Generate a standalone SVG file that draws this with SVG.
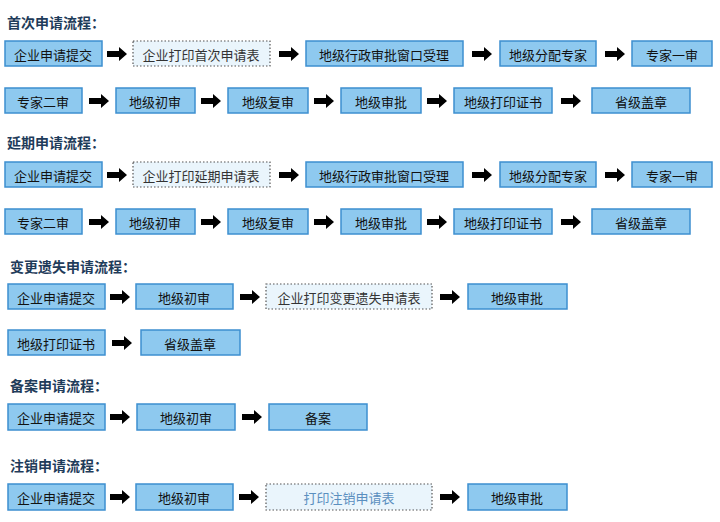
<svg xmlns="http://www.w3.org/2000/svg" width="720" height="522" viewBox="0 0 720 522">
<style>
.b{fill:#8ec9ef;stroke:#3d8fd0;stroke-width:1.5}
.d{fill:#eaf5fc;stroke:#555;stroke-width:1.2;stroke-dasharray:1.5 2}
text{font-family:"Noto Sans CJK SC",sans-serif;font-size:13px;fill:#111;text-anchor:middle;dominant-baseline:central}
.dt{fill:#333}
.t{font-size:14px;font-weight:bold;fill:#1f3c5a;text-anchor:start}
</style>
<defs><path id="a" d="M0,-3 H12 V-7 L20,0 L12,7 V3 H0 Z" fill="#000"/></defs>
<rect width="720" height="522" fill="#fff"/>
<text class="t" x="7" y="22">首次申请流程：</text>
<text class="t" x="7" y="142">延期申请流程：</text>
<text class="t" x="10" y="266">变更遗失申请流程：</text>
<text class="t" x="10" y="385">备案申请流程：</text>
<text class="t" x="10" y="465">注销申请流程：</text>
<g id="connectors">
<use href="#a" x="107" y="54"/><use href="#a" x="279" y="54"/><use href="#a" x="472" y="54"/><use href="#a" x="605" y="54"/>
<use href="#a" x="89" y="101"/><use href="#a" x="201" y="101"/><use href="#a" x="314" y="101"/><use href="#a" x="427" y="101"/><use href="#a" x="561" y="101"/>
<use href="#a" x="107" y="175"/><use href="#a" x="279" y="175"/><use href="#a" x="472" y="175"/><use href="#a" x="605" y="175"/>
<use href="#a" x="89" y="222"/><use href="#a" x="201" y="222"/><use href="#a" x="314" y="222"/><use href="#a" x="427" y="222"/><use href="#a" x="561" y="222"/>
<use href="#a" x="110" y="297"/><use href="#a" x="240" y="297"/><use href="#a" x="440" y="297"/>
<use href="#a" x="112" y="343"/>
<use href="#a" x="110" y="417"/><use href="#a" x="242" y="417"/>
<use href="#a" x="110" y="497"/><use href="#a" x="239" y="497"/><use href="#a" x="440" y="497"/>
</g>
<g id="r1">
<g id="n1"><rect class="b" x="5" y="41" width="97" height="25"/><text x="53" y="54">企业申请提交</text></g>
<g id="n2"><rect class="d" x="133" y="41" width="137" height="25"/><text class="dt" x="201" y="54">企业打印首次申请表</text></g>
<g id="n3"><rect class="b" x="306" y="41" width="157" height="25"/><text x="384" y="54">地级行政审批窗口受理</text></g>
<g id="n4"><rect class="b" x="500" y="41" width="96" height="25"/><text x="548" y="54">地级分配专家</text></g>
<g id="n5"><rect class="b" x="632" y="41" width="80" height="25"/><text x="672" y="54">专家一审</text></g>
<g id="n6"><rect class="b" x="5" y="88" width="77" height="25"/><text x="43" y="101">专家二审</text></g>
<g id="n7"><rect class="b" x="116" y="88" width="79" height="25"/><text x="155" y="101">地级初审</text></g>
<g id="n8"><rect class="b" x="228" y="88" width="80" height="25"/><text x="268" y="101">地级复审</text></g>
<g id="n9"><rect class="b" x="341" y="88" width="80" height="25"/><text x="381" y="101">地级审批</text></g>
<g id="n10"><rect class="b" x="454" y="88" width="98" height="25"/><text x="503" y="101">地级打印证书</text></g>
<g id="n11"><rect class="b" x="592" y="88" width="98" height="25"/><text x="641" y="101">省级盖章</text></g>
</g>
<g id="r2">
<g id="m1"><rect class="b" x="5" y="162" width="97" height="25"/><text x="53" y="175">企业申请提交</text></g>
<g id="m2"><rect class="d" x="133" y="162" width="137" height="25"/><text class="dt" x="201" y="175">企业打印延期申请表</text></g>
<g id="m3"><rect class="b" x="306" y="162" width="157" height="25"/><text x="384" y="175">地级行政审批窗口受理</text></g>
<g id="m4"><rect class="b" x="500" y="162" width="96" height="25"/><text x="548" y="175">地级分配专家</text></g>
<g id="m5"><rect class="b" x="632" y="162" width="80" height="25"/><text x="672" y="175">专家一审</text></g>
<g id="m6"><rect class="b" x="5" y="209" width="77" height="25"/><text x="43" y="222">专家二审</text></g>
<g id="m7"><rect class="b" x="116" y="209" width="79" height="25"/><text x="155" y="222">地级初审</text></g>
<g id="m8"><rect class="b" x="228" y="209" width="80" height="25"/><text x="268" y="222">地级复审</text></g>
<g id="m9"><rect class="b" x="341" y="209" width="80" height="25"/><text x="381" y="222">地级审批</text></g>
<g id="m10"><rect class="b" x="454" y="209" width="98" height="25"/><text x="503" y="222">地级打印证书</text></g>
<g id="m11"><rect class="b" x="592" y="209" width="98" height="25"/><text x="641" y="222">省级盖章</text></g>
</g>
<g id="r3">
<g id="c1"><rect class="b" x="8" y="284" width="97" height="25"/><text x="56" y="297">企业申请提交</text></g>
<g id="c2"><rect class="b" x="136" y="284" width="97" height="25"/><text x="184" y="297">地级初审</text></g>
<g id="c3"><rect class="d" x="266" y="284" width="166" height="25"/><text class="dt" x="349" y="297">企业打印变更遗失申请表</text></g>
<g id="c4"><rect class="b" x="468" y="284" width="99" height="25"/><text x="517" y="297">地级审批</text></g>
<g id="c5"><rect class="b" x="8" y="330" width="97" height="25"/><text x="56" y="343">地级打印证书</text></g>
<g id="c6"><rect class="b" x="141" y="330" width="99" height="25"/><text x="190" y="343">省级盖章</text></g>
</g>
<g id="r4">
<g id="f1"><rect class="b" x="8" y="404" width="97" height="26"/><text x="56" y="417">企业申请提交</text></g>
<g id="f2"><rect class="b" x="137" y="404" width="98" height="26"/><text x="186" y="417">地级初审</text></g>
<g id="f3"><rect class="b" x="269" y="404" width="98" height="26"/><text x="318" y="417">备案</text></g>
</g>
<g id="r5">
<g id="z1"><rect class="b" x="8" y="484" width="97" height="26"/><text x="56" y="497">企业申请提交</text></g>
<g id="z2"><rect class="b" x="136" y="484" width="97" height="26"/><text x="184" y="497">地级初审</text></g>
<g id="z3"><rect class="d" x="266" y="484" width="166" height="26"/><text x="349" y="497" style="fill:#5a8fbf">打印注销申请表</text></g>
<g id="z4"><rect class="b" x="468" y="484" width="99" height="26"/><text x="517" y="497">地级审批</text></g>
</g>
</svg>
